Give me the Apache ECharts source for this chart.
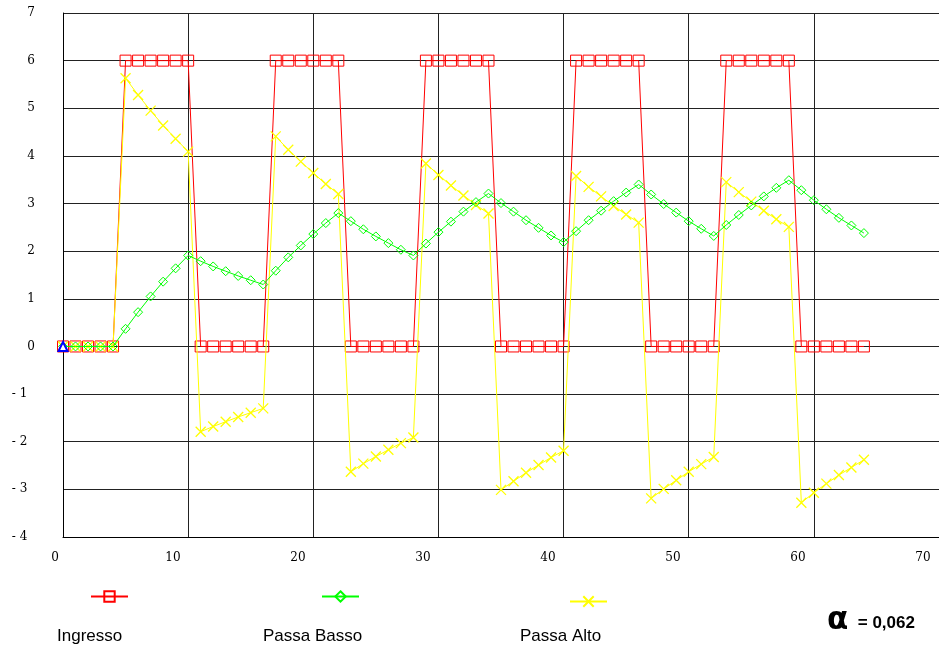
<!DOCTYPE html>
<html>
<head>
<meta charset="utf-8">
<script src="https://cdn.jsdelivr.net/npm/echarts@6/dist/echarts.min.js"></script>
<style>html,body{margin:0;padding:0;background:#fff}#c{width:939px;height:653px}</style>
</head>
<body>
<div id="c"></div>
<script>
// ---- data ----
var steps = [1,2,3,4,5,6,7,8,9,10,11,12,13,14,15,16,17,18,19,20,21,22,23,24,25,26,27,28,29,30,31,32,33,34,35,36,37,38,39,40,41,42,43,44,45,46,47,48,49,50,51,52,53,54,55,56,57,58,59,60,61,62,63,64,65];
var ingresso = [0,0,0,0,0, 6,6,6,6,6,6, 0,0,0,0,0,0, 6,6,6,6,6,6, 0,0,0,0,0,0, 6,6,6,6,6,6, 0,0,0,0,0,0, 6,6,6,6,6,6, 0,0,0,0,0,0, 6,6,6,6,6,6, 0,0,0,0,0,0];
var passaBasso = [0,0,0,0,0,
  0.37,0.72,1.05,1.36,1.64,1.91,
  1.79,1.68,1.58,1.48,1.39,1.30,
  1.59,1.87,2.12,2.36,2.59,2.80,
  2.63,2.46,2.31,2.17,2.03,1.91,
  2.16,2.40,2.62,2.83,3.03,3.21,
  3.01,2.83,2.65,2.49,2.33,2.19,
  2.42,2.65,2.85,3.05,3.23,3.40,
  3.19,2.99,2.81,2.63,2.47,2.32,
  2.55,2.76,2.96,3.15,3.33,3.49,
  3.28,3.07,2.88,2.70,2.54,2.38];
var passaAlto = [0,0,0,0,0,
  5.63,5.28,4.95,4.64,4.36,4.09,
  -1.79,-1.68,-1.58,-1.48,-1.39,-1.30,
  4.41,4.13,3.88,3.64,3.41,3.20,
  -2.63,-2.46,-2.31,-2.17,-2.03,-1.91,
  3.84,3.60,3.38,3.17,2.97,2.79,
  -3.01,-2.83,-2.65,-2.49,-2.33,-2.19,
  3.58,3.35,3.15,2.95,2.77,2.60,
  -3.19,-2.99,-2.81,-2.63,-2.47,-2.32,
  3.45,3.24,3.04,2.85,2.67,2.51,
  -3.28,-3.07,-2.88,-2.70,-2.54,-2.38];
var extraPoint = [[1, 0]];
var gridLinesX = [11,21,31,41,51,61];
var seriesNames = ['Ingresso', 'Passa Basso', 'Passa Alto'];
var alphaText = '= 0,062';

function pairs(ys){ return steps.map(function(x,i){ return [x, ys[i]]; }); }

var chart = echarts.init(document.getElementById('c'), null, {renderer:'canvas'});
var lblFont = {fontFamily:'DejaVu Serif', fontSize:12, color:'#000'};
var legendText = {fontFamily:'Liberation Sans', fontSize:17, color:'#000'};

function iconLegend(name, left, top){
  return {data:[name], left:left, top:top, itemWidth:37, itemHeight:13, formatter:function(){return '';},
          itemGap:0, padding:0, textStyle:{fontSize:1}};
}
function textLegend(name, left, top){
  return {data:[name], left:left, top:top, itemWidth:1, itemHeight:1, icon:'rect', padding:0,
          itemStyle:{color:'rgba(0,0,0,0)', borderWidth:0}, textStyle:legendText};
}

chart.setOption({
  animation:false,
  backgroundColor:'#fff',
  title:{
    left:822, top:600,
    text:'{a|α}{b|  ' + alphaText + '}',
    textStyle:{rich:{
      a:{fontFamily:'DejaVu Sans', fontWeight:'bold', fontSize:31, color:'#000'},
      b:{fontFamily:'Liberation Sans', fontWeight:'bold', fontSize:17, color:'#000', padding:[5,0,0,0]}
    }}
  },
  legend:[
    iconLegend(seriesNames[0], 90, 590),
    iconLegend(seriesNames[1], 321, 590),
    iconLegend(seriesNames[2], 569, 595),
    textLegend(seriesNames[0], 51, 628),
    textLegend(seriesNames[1], 257, 628),
    textLegend(seriesNames[2], 514, 628)
  ],
  grid:[
    {left:63, right:0, top:13, bottom:116, containLabel:false},
    {left:48, right:16, top:537, height:1, containLabel:false}
  ],
  xAxis:[
    {type:'value', gridIndex:0, min:1, max:71,
     axisLine:{show:true, onZero:false, lineStyle:{color:'#000', width:1}},
     axisTick:{show:false, customValues:gridLinesX},
     axisLabel:{show:false},
     splitLine:{show:true, lineStyle:{color:'#222', width:1}}},
    {type:'value', gridIndex:1, min:0, max:70, interval:10,
     axisLine:{show:false}, axisTick:{show:false}, splitLine:{show:false},
     axisLabel:Object.assign({margin:14,
        formatter:function(v){ return v === 0 ? '{z|0}' : String(v); },
        rich:{z:Object.assign({padding:[0,0,0,14]}, lblFont)}}, lblFont)}
  ],
  yAxis:[
    {type:'value', gridIndex:0, min:-4, max:7, interval:1,
     axisLine:{show:true, lineStyle:{color:'#000', width:1}},
     axisTick:{show:false},
     splitLine:{show:true, lineStyle:{color:'#222', width:1}},
     axisLabel:Object.assign({margin:28, align:'right',
       formatter:function(v){ return v < 0 ? '- ' + (-v) + '  ' : String(v); }}, lblFont)},
    {type:'value', gridIndex:1, show:false}
  ],
  series:[
    {name:seriesNames[0], type:'line', data:pairs(ingresso), symbol:'path://M0,0H10V10H0Z', symbolSize:11,
     lineStyle:{color:'#ff0000', width:1}, itemStyle:{color:'rgba(255,255,255,0)', borderColor:'#ff0000', borderWidth:1},
     emphasis:{disabled:true}, z:2},
    {name:seriesNames[2], type:'line', data:pairs(passaAlto), symbol:'path://M0,0L10,10M10,0L0,10', symbolSize:10,
     lineStyle:{color:'#ffff00', width:1}, itemStyle:{color:'rgba(255,255,255,0)', borderColor:'#ffff00', borderWidth:1.3},
     emphasis:{disabled:true}, z:3},
    {name:seriesNames[1], type:'line', data:pairs(passaBasso), symbol:'path://M5,0L10,5L5,10L0,5Z', symbolSize:9,
     lineStyle:{color:'#00ff00', width:1}, itemStyle:{color:'rgba(255,255,255,0)', borderColor:'#00ff00', borderWidth:1},
     emphasis:{disabled:true}, z:4},
    {name:'Serie 4', type:'line', data:extraPoint, symbol:'emptyTriangle', symbolSize:9,
     lineStyle:{color:'#0000ff'}, itemStyle:{color:'#0000ff'}, emphasis:{disabled:true}, z:5}
  ]
});
</script>
</body>
</html>
